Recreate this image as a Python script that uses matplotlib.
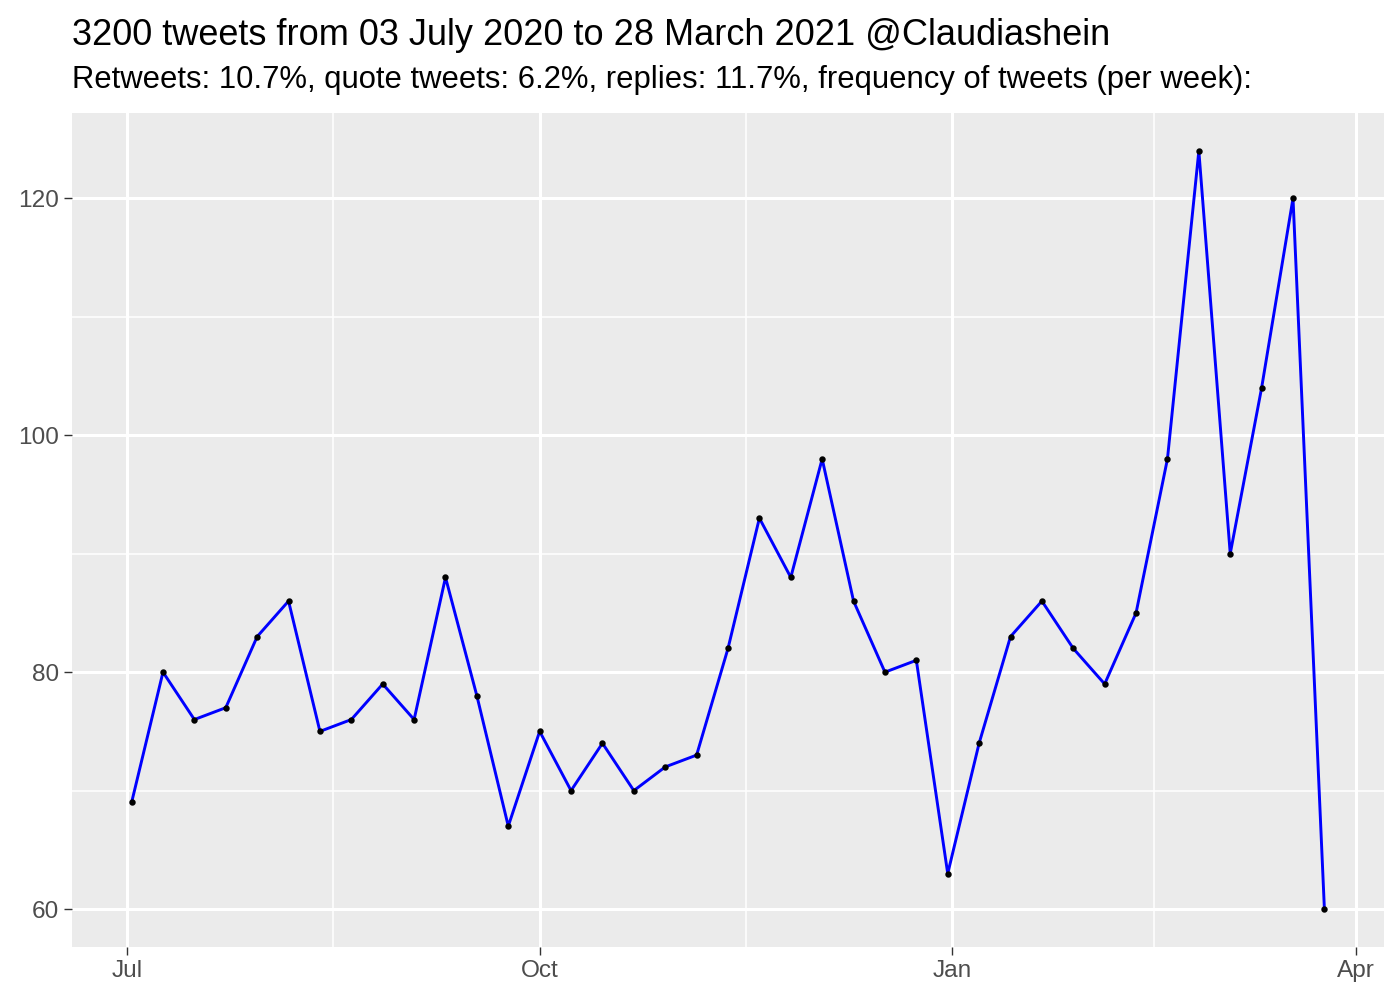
import matplotlib
matplotlib.use("Agg")
import matplotlib.pyplot as plt
import matplotlib.dates as mdates
import numpy as np
import pandas as pd

# weekly tweet counts
week_start = "2020-07-02"
tweets_per_week = [69, 80, 76, 77, 83, 86, 75, 76, 79, 76, 88, 78, 67,
                   75, 70, 74, 70, 72, 73, 82, 93, 88, 98, 86, 80, 81,
                   63, 74, 83, 86, 82, 79, 85, 98, 124, 90, 104, 120, 60]
weeks = pd.date_range(week_start, periods=len(tweets_per_week), freq="7D")

major_dates = pd.to_datetime(["2020-07-01", "2020-10-01", "2021-01-01", "2021-04-01"])
major_labels = ["Jul", "Oct", "Jan", "Apr"]
y_major = [60, 80, 100, 120]
y_minor = [70, 90, 110]

title = "3200 tweets from 03 July 2020 to 28 March 2021 @Claudiashein"
subtitle = "Retweets: 10.7%, quote tweets: 6.2%, replies: 11.7%, frequency of tweets (per week):"

plt.rcParams['font.family'] = ['Liberation Sans', 'DejaVu Sans']

fig = plt.figure(figsize=(7, 5), dpi=200)
ax = fig.add_axes([0.0514, 0.053, 0.9372, 0.834])
ax.set_facecolor("#EBEBEB")
for s in ax.spines.values():
    s.set_visible(False)

xnum = mdates.date2num(weeks)
span = xnum[-1] - xnum[0]
ax.set_xlim(xnum[0] - 0.05 * span, xnum[-1] + 0.05 * span)
ymin, ymax = min(tweets_per_week), max(tweets_per_week)
ax.set_ylim(ymin - 0.05 * (ymax - ymin), ymax + 0.05 * (ymax - ymin))

# grid
major_num = mdates.date2num(major_dates)
minor_num = (major_num[:-1] + major_num[1:]) / 2
for v in minor_num:
    ax.axvline(v, color="white", lw=0.55, zorder=0)
for v in y_minor:
    ax.axhline(v, color="white", lw=0.55, zorder=0)
for v in major_num:
    ax.axvline(v, color="white", lw=1.1, zorder=0)
for v in y_major:
    ax.axhline(v, color="white", lw=1.1, zorder=0)

ax.plot(weeks, tweets_per_week, color="blue", lw=1.05, zorder=2)
ax.plot(weeks, tweets_per_week, "o", color="black", ms=1.3, zorder=3)

ax.set_xticks(major_num)
ax.set_xticklabels(major_labels)
ax.set_yticks(y_major)
ax.tick_params(axis="both", colors="#333333", labelcolor="#4D4D4D",
               labelsize=8.8, length=2.75, width=0.5, pad=2)

fig.text(0.0514, 0.955, title, fontsize=13.0, ha="left", va="baseline")
fig.text(0.0514, 0.912, subtitle, fontsize=11.15, ha="left", va="baseline")

fig.savefig("out.png", dpi=200)
